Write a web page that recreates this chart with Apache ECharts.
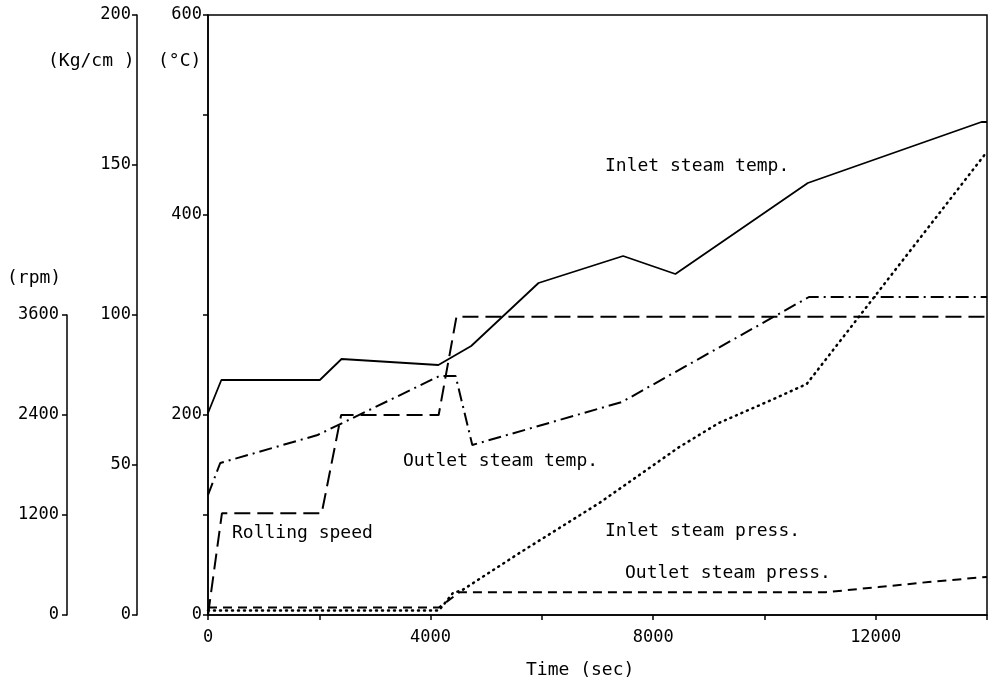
<!DOCTYPE html>
<html>
<head>
    <meta charset="utf-8">
    <title>Turbine start-up curves</title>
    <script src="https://cdn.jsdelivr.net/npm/echarts@6/dist/echarts.min.js"></script>
    <style>
        html, body { margin: 0; padding: 0; background: #fff; }
        #main { width: 990px; height: 686px; }
    </style>
</head>
<body>
    <div id="main"></div>
    <script>
        // data: [time (sec), value]
        const inletTemp = [[0, 202], [240, 235], [2010, 235], [2400, 256], [4140, 250], [4730, 269],
            [5940, 332], [7460, 359], [8400, 341], [10780, 432], [13900, 493], [14000, 493]];
        const outletTemp = [[0, 120], [220, 152], [1970, 180], [4160, 239], [4450, 239], [4750, 170],
            [7440, 213], [10800, 318], [14000, 318]];
        const rollingSpeed = [[0, 0], [250, 1220], [2040, 1220], [2390, 2400], [4140, 2400],
            [4460, 3580], [14000, 3580]];
        const inletPress = [[0, 1.5], [4150, 1.5], [4400, 7.3], [4570, 8.3], [5600, 20.7], [7030, 37.3],
            [8470, 56], [9180, 64], [10130, 71.7], [10760, 77], [13970, 153.7], [14000, 154]];
        const outletPress = [[0, 2.5], [4150, 2.5], [4520, 7.6], [11100, 7.6], [12050, 9.3],
            [12950, 11], [14000, 12.7]];

        // annotation texts
        const curveLabels = ['Inlet steam temp.', 'Outlet steam temp.', 'Rolling speed',
            'Inlet steam press.', 'Outlet steam press.'];
        const unitLabels = ['(Kg/cm )', '(\u00b0C)', '(rpm)'];
        const xTitle = 'Time (sec)';

        const FONT = 'DejaVu Sans Mono';
        const black = '#000';

        var myChart = echarts.init(document.getElementById('main'));

        function axisCommon() {
            return {
                type: 'value',
                axisLine: { show: true, onZero: false, lineStyle: { color: black, width: 1.5 } },
                axisTick: { show: true, length: 5, lineStyle: { color: black, width: 1.5 } },
                axisLabel: { color: black, fontFamily: FONT, fontSize: 17, formatter: v => String(v) },
                splitLine: { show: false }
            };
        }

        function lineSeries(data, cap, width, dash, xi, yi) {
            return {
                type: 'line',
                data: data,
                xAxisIndex: xi,
                yAxisIndex: yi,
                symbol: 'none',
                silent: true,
                lineStyle: { color: black, width: width, type: dash, cap: cap }
            };
        }

        function label(text, x, y) {
            return {
                type: 'text',
                left: x,
                top: y - 11,
                style: { text: text, fill: black, font: '18px "' + FONT + '"' }
            };
        }

        const xMain = Object.assign(axisCommon(), {
            gridIndex: 0, min: 0, max: 14000, interval: 2000
        });
        xMain.axisLabel.formatter = v => (v % 4000 === 0 ? String(v) : '');
        xMain.axisLabel.margin = 14;

        const yTemp = Object.assign(axisCommon(), {
            gridIndex: 0, position: 'left', min: 0, max: 600, interval: 100
        });
        yTemp.axisLabel.formatter = v => (v % 200 === 0 ? String(v) : '');
        yTemp.axisLabel.margin = 6;

        const yPress = Object.assign(axisCommon(), {
            gridIndex: 0, position: 'left', offset: 71, min: 0, max: 200, interval: 50
        });
        yPress.axisLabel.margin = 6;

        const yRpm = Object.assign(axisCommon(), {
            gridIndex: 1, position: 'left', offset: 141, min: 0, max: 3600, interval: 1200
        });
        yRpm.axisLabel.margin = 8;

        const option = {
            backgroundColor: '#fff',
            animation: false,
            grid: [
                { left: 208, right: 2, top: 15, bottom: 71, show: true,
                  borderColor: black, borderWidth: 1.5, backgroundColor: 'transparent' },
                { left: 208, right: 2, top: 315, bottom: 71, show: false }
            ],
            xAxis: [
                xMain,
                { type: 'value', gridIndex: 1, min: 0, max: 14000, show: false }
            ],
            yAxis: [yTemp, yPress, yRpm],
            series: [
                lineSeries(inletTemp, 'butt', 1.8, 'solid', 0, 0),
                lineSeries(outletTemp, 'butt', 2, [13, 5, 2, 5], 0, 0),
                lineSeries(inletPress, 'round', 2.5, [1, 5], 0, 1),
                lineSeries(outletPress, 'butt', 2, [9, 6], 0, 1),
                lineSeries(rollingSpeed, 'butt', 2, [16, 7], 1, 2)
            ],
            graphic: [
                label(curveLabels[0], 605, 168),
                label(curveLabels[1], 403, 463),
                label(curveLabels[2], 232, 535),
                label(curveLabels[3], 605, 533),
                label(curveLabels[4], 625, 575),
                label(unitLabels[0], 48, 63),
                label(unitLabels[1], 158, 63),
                label(unitLabels[2], 7, 280),
                label(xTitle, 526, 672)
            ]
        };

        myChart.setOption(option);
    </script>
</body>
</html>
